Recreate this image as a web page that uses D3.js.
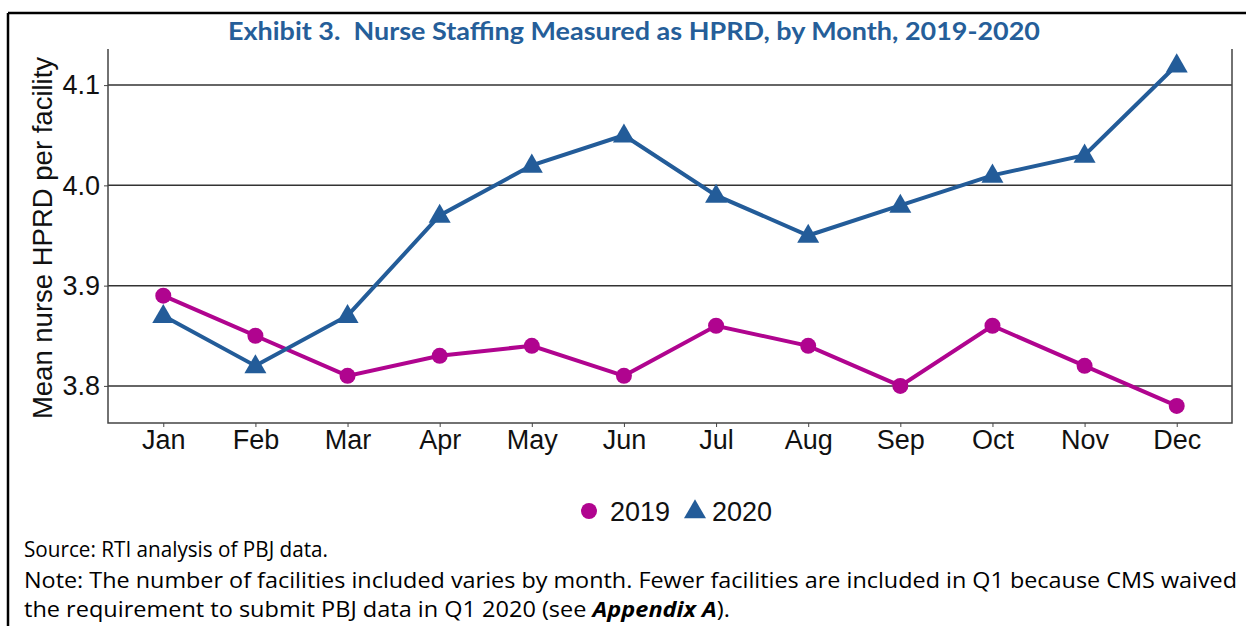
<!DOCTYPE html>
<html>
<head>
<meta charset="utf-8">
<script src="https://cdn.jsdelivr.net/npm/d3@7"></script>
<style>
  body { margin: 0; background: #fff; }
  svg { display: block; }
</style>
</head>
<body>
<svg id="chart"></svg>
<script>
const months = ["Jan", "Feb", "Mar", "Apr", "May", "Jun", "Jul", "Aug", "Sep", "Oct", "Nov", "Dec"];
const hprd2019 = [3.89, 3.85, 3.81, 3.83, 3.84, 3.81, 3.86, 3.84, 3.80, 3.86, 3.82, 3.78];
const hprd2020 = [3.87, 3.82, 3.87, 3.97, 4.02, 4.05, 3.99, 3.95, 3.98, 4.01, 4.03, 4.12];
const yTicks = [3.8, 3.9, 4.0, 4.1];

const W = 1246, H = 626;
const svg = d3.select("#chart").attr("width", W).attr("height", H);

// outer frame (top + left visible)
svg.append("line").attr("x1", 8).attr("x2", W + 2).attr("y1", 13).attr("y2", 13)
  .attr("stroke", "#000").attr("stroke-width", 2.5);
svg.append("line").attr("x1", 8).attr("x2", 8).attr("y1", 13).attr("y2", H + 2)
  .attr("stroke", "#000").attr("stroke-width", 2.5);

svg.append("text").attr("x", 634).attr("y", 40).attr("text-anchor", "middle")
  .attr("textLength", 812).attr("lengthAdjust", "spacingAndGlyphs")
  .style("white-space", "pre")
  .style("font-family", "Lato, 'Open Sans', sans-serif").style("font-weight", "bold")
  .style("font-size", "24px").style("fill", "#255E99")
  .text("Exhibit 3.  Nurse Staffing Measured as HPRD, by Month, 2019-2020");

const pl = 108, pr = 1232, pt = 49, pb = 423;
const x = d3.scalePoint().domain(months).range([pl, pr]).padding(0.6);
const y = d3.scaleLinear().domain([3.763, 4.136]).range([pb, pt]);

// gridlines
svg.append("g").selectAll("line").data(yTicks).enter().append("line")
  .attr("x1", pl).attr("x2", pr)
  .attr("y1", d => y(d)).attr("y2", d => y(d))
  .attr("stroke", "#333").attr("stroke-width", 1.5);

const fontAx = "'Liberation Sans', Arial, sans-serif";

const yAxis = svg.append("g").attr("transform", `translate(${pl},0)`)
  .call(d3.axisLeft(y).tickValues(yTicks).tickFormat(d3.format(".1f")).tickSize(4).tickPadding(4));
yAxis.select(".domain").remove();
yAxis.selectAll("text").style("font-family", fontAx).style("font-size", "27px").style("fill", "#111");
yAxis.selectAll(".tick line").attr("stroke", "#444");

const xAxis = svg.append("g").attr("transform", `translate(0,${pb})`)
  .call(d3.axisBottom(x).tickSize(4).tickPadding(3));
xAxis.select(".domain").remove();
xAxis.selectAll("text").style("font-family", fontAx).style("font-size", "27px").style("fill", "#111");
xAxis.selectAll(".tick line").attr("stroke", "#444");

// spines: left, bottom, right
svg.append("path")
  .attr("d", `M${pl},${pt}V${pb}H${pr}V${pt}`)
  .attr("fill", "none").attr("stroke", "#444").attr("stroke-width", 1.5);

svg.append("text")
  .attr("transform", `translate(52,${(pt + pb) / 2 + 2}) rotate(-90)`)
  .attr("text-anchor", "middle")
  .style("font-family", fontAx).style("font-size", "27.5px").style("fill", "#111")
  .text("Mean nurse HPRD per facility");

const c19 = "#B0048F", c20 = "#235C99";
const line = d3.line().x((d, i) => x(months[i])).y(d => y(d));

svg.append("path").datum(hprd2019).attr("d", line)
  .attr("fill", "none").attr("stroke", c19).attr("stroke-width", 4);
svg.append("path").datum(hprd2020).attr("d", line)
  .attr("fill", "none").attr("stroke", c20).attr("stroke-width", 4);

svg.append("g").selectAll("circle").data(hprd2019).enter().append("circle")
  .attr("cx", (d, i) => x(months[i])).attr("cy", d => y(d)).attr("r", 8).attr("fill", c19);

const tri = d3.symbol().type(d3.symbolTriangle).size(210);
svg.append("g").selectAll("path").data(hprd2020).enter().append("path")
  .attr("d", tri).attr("fill", c20)
  .attr("transform", (d, i) => `translate(${x(months[i])},${y(d) + 1})`);

// legend
const lg = svg.append("g");
lg.append("circle").attr("cx", 589).attr("cy", 511).attr("r", 8).attr("fill", c19);
lg.append("text").attr("x", 610).attr("y", 521).style("font-family", fontAx)
  .style("font-size", "27px").style("fill", "#111").text("2019");
lg.append("path").attr("d", tri).attr("fill", c20).attr("transform", "translate(695,512)");
lg.append("text").attr("x", 712).attr("y", 521).style("font-family", fontAx)
  .style("font-size", "27px").style("fill", "#111").text("2020");

// footnotes
const fontNote = "'Open Sans', sans-serif";
svg.append("text").attr("x", 24).attr("y", 557)
  .attr("textLength", 304).attr("lengthAdjust", "spacingAndGlyphs")
  .style("font-family", fontNote).style("font-size", "22px").style("fill", "#000")
  .text("Source: RTI analysis of PBJ data.");
svg.append("text").attr("x", 24).attr("y", 588)
  .attr("textLength", 1213).attr("lengthAdjust", "spacingAndGlyphs")
  .style("font-family", fontNote).style("font-size", "22px").style("fill", "#000")
  .text("Note: The number of facilities included varies by month. Fewer facilities are included in Q1 because CMS waived");
const n3 = svg.append("text").attr("x", 24).attr("y", 617)
  .attr("textLength", 706).attr("lengthAdjust", "spacingAndGlyphs")
  .style("font-family", fontNote).style("font-size", "22px").style("fill", "#000");
n3.append("tspan").text("the requirement to submit PBJ data in Q1 2020 (see ");
n3.append("tspan").style("font-weight", "bold").style("font-style", "italic").text("Appendix A");
n3.append("tspan").text(").");
</script>
</body>
</html>
